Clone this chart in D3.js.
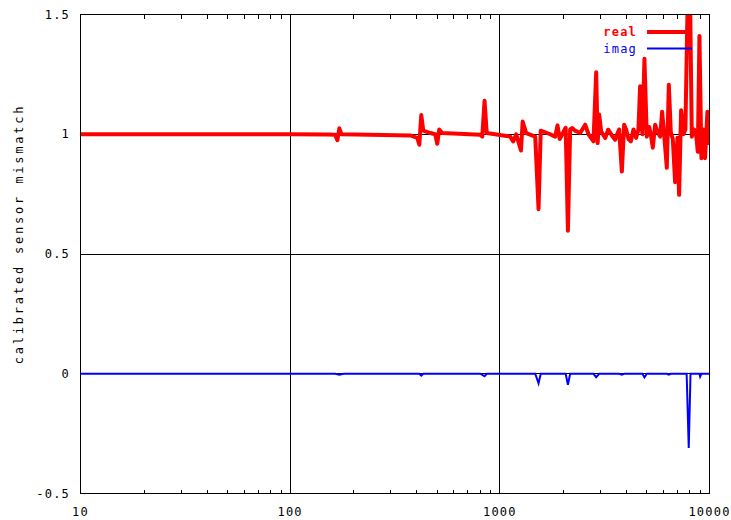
<!DOCTYPE html>
<html>
<head>
<meta charset="utf-8">
<script src="https://cdn.jsdelivr.net/npm/d3@7"></script>
<style>
  body { margin: 0; background: #fff; }
  text { font-family: "DejaVu Sans Mono", monospace; }
</style>
</head>
<body>
<div id="chart"></div>
<script>
// frequency (Hz) and value for the real part
var realFreq = [10, 100, 150, 164, 168, 171.6, 175.4, 374, 404, 413, 422, 431.5, 466, 492, 503, 514, 531.6,
  806.5, 824.5, 845.5, 866, 1000, 1121, 1158, 1197, 1261, 1285, 1336, 1475, 1530, 1567, 1738, 1837, 1884, 1930,
  2061, 2112, 2165, 2213, 2287, 2417, 2553, 2648, 2797, 2881, 2928, 2977, 3043, 3181, 3286, 3422, 3548, 3627,
  3707, 3819, 3917, 4004, 4106, 4216, 4339, 4467, 4582, 4667, 4786, 4895, 5023, 5152, 5248, 5367, 5505, 5646,
  5815, 5943, 6076, 6258, 6397, 6538, 6683, 6855, 7031, 7162, 7322, 7509, 7674, 7864, 8083, 8235, 8446, 8630,
  8796, 8954, 9150, 9354, 9528, 9772, 10000];
var realVal = [1.0, 1.0, 0.999, 0.998, 0.975, 1.025, 1.0, 0.995, 0.985, 0.956, 1.08, 1.015, 1.005, 1.0, 0.96, 1.02, 1.005,
  0.998, 0.99, 1.14, 1.005, 0.997, 0.99, 0.97, 1.0, 0.932, 1.053, 1.005, 0.99, 0.687, 1.015, 1.0, 0.99, 1.037, 0.98,
  1.027, 0.597, 1.02, 1.026, 1.015, 1.005, 1.04, 1.0, 0.97, 1.259, 0.963, 1.082, 1.012, 0.984, 1.019, 0.995, 0.977, 1.0,
  1.02, 0.844, 1.04, 1.02, 0.98, 0.97, 1.02, 0.985, 1.02, 1.2, 1.0, 1.315, 0.99, 1.03, 1.0, 0.944, 1.04, 1.01,
  0.99, 1.094, 1.0, 0.86, 1.207, 1.008, 0.98, 0.80, 0.985, 0.747, 1.1, 1.0, 1.02, 1.55, 1.55, 0.99, 1.02, 1.0,
  0.927, 1.41, 0.90, 1.02, 0.90, 1.094, 0.956];

// imaginary part
var imagFreq = [10, 100, 164, 171.6, 180, 413, 422, 431.5, 806.5, 845.5, 866, 1475, 1530, 1567, 2061, 2112, 2165,
  2797, 2881, 2977, 3707, 3819, 3917, 4786, 4895, 5023, 6258, 6397, 6538, 7780, 7962, 8118, 8954, 9022, 9150, 10000];
var imagVal = [0, 0, 0, -0.004, 0, 0, -0.008, 0, 0, -0.01, 0, 0, -0.04, 0, 0, -0.046, 0,
  0, -0.014, 0, 0, -0.004, 0, 0, -0.015, 0, 0, -0.004, 0, 0, -0.31, 0, 0, -0.012, 0, 0];

var xTicks = [10, 100, 1000, 10000];
var yTicks = [-0.5, 0, 0.5, 1, 1.5];
var seriesNames = ["real", "imag"];
var yTitle = "calibrated sensor mismatch";

var width = 731, height = 520;
var plotL = 80.5, plotR = 709.5, plotT = 14.5, plotB = 493.5;

var svg = d3.select("#chart").append("svg")
  .attr("width", width)
  .attr("height", height);

var x = d3.scaleLog().domain([10, 10000]).range([plotL, plotR]);
var y = d3.scaleLinear().domain([-0.5, 1.5]).range([plotB, plotT]);

// grid
svg.append("g")
  .selectAll("line")
  .data(xTicks.slice(1, -1))
  .enter().append("line")
  .attr("x1", d => x(d)).attr("x2", d => x(d))
  .attr("y1", plotT).attr("y2", plotB)
  .attr("stroke", "#000").attr("shape-rendering", "crispEdges");
svg.append("g")
  .selectAll("line")
  .data(yTicks.slice(1, -1))
  .enter().append("line")
  .attr("x1", plotL).attr("x2", plotR)
  .attr("y1", d => y(d)).attr("y2", d => y(d))
  .attr("stroke", "#000").attr("shape-rendering", "crispEdges");

// minor ticks on bottom and top
var minor = [];
[10, 100, 1000].forEach(function (dec) {
  for (var k = 2; k <= 9; k++) minor.push(dec * k);
});
var xAxisB = d3.axisBottom(x).tickValues(minor).tickSize(-4).tickFormat("");
var xAxisT = d3.axisTop(x).tickValues(minor).tickSize(-4).tickFormat("");
svg.append("g").attr("transform", "translate(0," + plotB + ")").call(xAxisB)
  .call(g => g.select(".domain").remove())
  .selectAll("line").attr("shape-rendering", "crispEdges");
svg.append("g").attr("transform", "translate(0," + plotT + ")").call(xAxisT)
  .call(g => g.select(".domain").remove())
  .selectAll("line").attr("shape-rendering", "crispEdges");

// tick labels
svg.append("g")
  .selectAll("text")
  .data(xTicks)
  .enter().append("text")
  .attr("x", d => x(d))
  .attr("y", 516)
  .attr("text-anchor", "middle")
  .attr("font-size", 12)
  .attr("letter-spacing", 1.2)
  .text(d => d);
svg.append("g")
  .selectAll("text")
  .data(yTicks)
  .enter().append("text")
  .attr("x", 70)
  .attr("y", d => y(d) + 4)
  .attr("text-anchor", "end")
  .attr("font-size", 12)
  .attr("letter-spacing", 1.2)
  .text(d => d);

svg.append("text")
  .attr("transform", "translate(23,234) rotate(-90)")
  .attr("text-anchor", "middle")
  .attr("font-size", 12)
  .attr("letter-spacing", 2.8)
  .text(yTitle);

// clip
svg.append("clipPath").attr("id", "plotclip")
  .append("rect")
  .attr("x", plotL).attr("y", plotT)
  .attr("width", plotR - plotL).attr("height", plotB - plotT);

var line = d3.line()
  .x(d => x(d[0]))
  .y(d => y(d[1]));

var imagData = imagFreq.map((f, i) => [f, imagVal[i]]);
var realData = realFreq.map((f, i) => [f, realVal[i]]);

svg.append("path")
  .datum(imagData)
  .attr("clip-path", "url(#plotclip)")
  .attr("d", line)
  .attr("fill", "none")
  .attr("stroke", "#0000ff")
  .attr("stroke-width", 2);

svg.append("path")
  .datum(realData)
  .attr("clip-path", "url(#plotclip)")
  .attr("d", line)
  .attr("fill", "none")
  .attr("stroke", "#ff0000")
  .attr("stroke-width", 4)
  .attr("stroke-linejoin", "round");

// frame
svg.append("rect")
  .attr("x", plotL).attr("y", plotT)
  .attr("width", plotR - plotL).attr("height", plotB - plotT)
  .attr("fill", "none").attr("stroke", "#000")
  .attr("shape-rendering", "crispEdges");

// legend
var legend = svg.append("g");
var legColors = ["#ff0000", "#0000ff"];
var legWidths = [4, 2];
seriesNames.forEach(function (name, i) {
  var ly = 32 + i * 16.5;
  legend.append("text")
    .attr("x", 637)
    .attr("y", ly + 4)
    .attr("text-anchor", "end")
    .attr("font-size", 12)
    .attr("font-weight", i === 0 ? "bold" : "normal")
    .attr("letter-spacing", 1.2)
    .attr("fill", legColors[i])
    .text(name);
  legend.append("line")
    .attr("x1", 647).attr("x2", 692)
    .attr("y1", ly).attr("y2", ly)
    .attr("stroke", legColors[i])
    .attr("stroke-width", legWidths[i]);
});
</script>
</body>
</html>
